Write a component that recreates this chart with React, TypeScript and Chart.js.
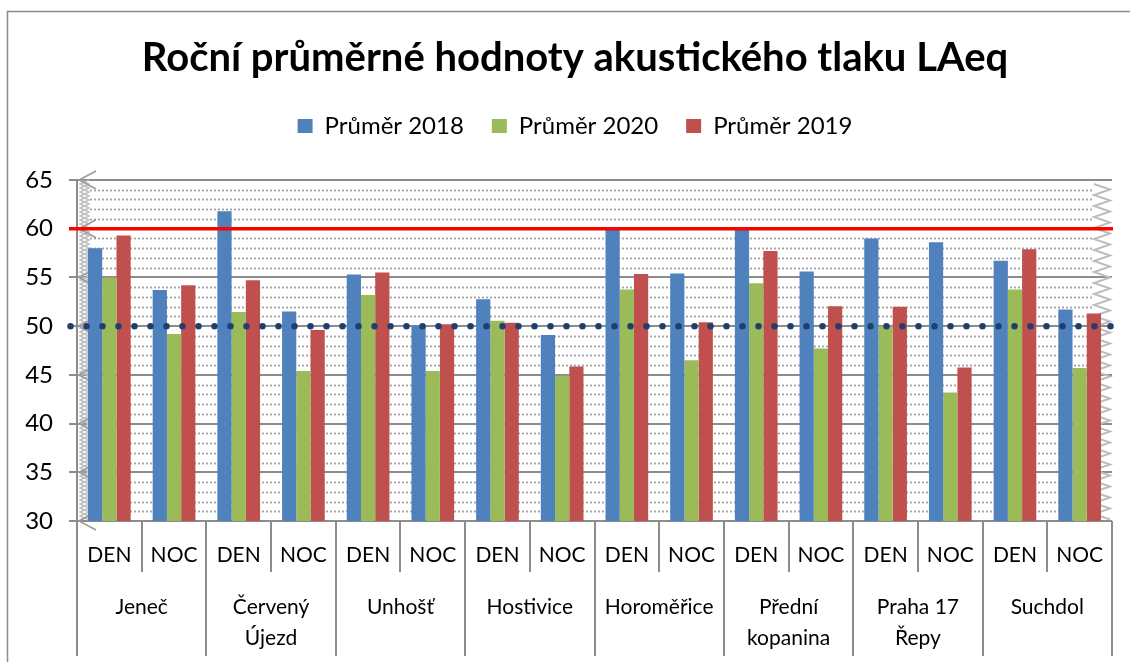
import React, { useEffect, useRef } from "react";
import { Chart, registerables } from "chart.js";

Chart.register(...registerables);

// ---------- data ----------
const groups: (string | string[])[] = [
  "Jeneč",
  ["Červený", "Újezd"],
  "Unhošť",
  "Hostivice",
  "Horoměřice",
  ["Přední", "kopanina"],
  ["Praha 17", "Řepy"],
  "Suchdol",
];
const periods = ["DEN", "NOC", "DEN", "NOC", "DEN", "NOC", "DEN", "NOC", "DEN", "NOC", "DEN", "NOC", "DEN", "NOC", "DEN", "NOC"];

const avg2018 = [58.0, 53.7, 61.8, 51.5, 55.3, 50.1, 52.75, 49.1, 59.9, 55.4, 59.9, 55.6, 59.0, 58.6, 56.7, 51.7];
const avg2020 = [55.0, 49.2, 51.45, 45.4, 53.2, 45.4, 50.55, 44.9, 53.75, 46.5, 54.4, 47.7, 50.0, 43.2, 53.75, 45.7];
const avg2019 = [59.3, 54.2, 54.7, 49.6, 55.5, 50.2, 50.35, 45.85, 55.35, 50.4, 57.7, 52.05, 52.0, 45.75, 57.9, 51.3];

const seriesNames = ["Průměr 2018", "Průměr 2020", "Průměr 2019"];
const seriesColors = ["#4F81BD", "#9BBB59", "#C0504D"];

const yMin = 30;
const yMax = 65;
const yMajorStep = 5;
const dayLimit = 60;
const nightLimit = 50;

const titleText = "Roční průměrné hodnoty akustického tlaku LAeq";
const FONT = "Lato, 'Open Sans', sans-serif";

const decorPlugin = {
  id: "decor",
  beforeDraw(chart: any) {
    const ctx = chart.ctx;
    ctx.save();
    ctx.strokeStyle = "#8C8C8C";
    ctx.lineWidth = 1.5;
    ctx.strokeRect(7.5, 11.5, chart.width + 20, chart.height + 20);
    ctx.restore();
  },
  beforeDatasetsDraw(chart: any) {
    const ctx = chart.ctx;
    const y = chart.scales.y;
    const { left, right, top, bottom } = chart.chartArea;
    ctx.save();
    // minor dotted gridlines
    ctx.strokeStyle = "#A3A3A3";
    ctx.lineWidth = 1.8;
    ctx.setLineDash([2, 2]);
    for (let v = yMin + 1; v < yMax; v++) {
      if (v % yMajorStep === 0) continue;
      const py = Math.round(y.getPixelForValue(v)) + 0.5;
      ctx.beginPath();
      ctx.moveTo(left + 13, py);
      ctx.lineTo(right - 18, py);
      ctx.stroke();
    }
    ctx.setLineDash([]);
    // left wall zigzag
    ctx.strokeStyle = "#BDBDBD";
    ctx.lineWidth = 1.4;
    for (let phase = 0; phase < 2; phase++) {
      ctx.beginPath();
      let k = 0;
      for (let py = top; py <= bottom; py += 4) {
        const x = (k + phase) % 2 === 0 ? left + 3 : left + 12;
        if (k === 0) ctx.moveTo(x, py);
        else ctx.lineTo(x, py);
        k++;
      }
      ctx.stroke();
    }
    // chevrons at major ticks
    ctx.strokeStyle = "#9A9A9A";
    ctx.lineWidth = 1.5;
    for (let v = yMin; v <= yMax; v += yMajorStep) {
      const py = y.getPixelForValue(v);
      ctx.beginPath();
      ctx.moveTo(left + 19, py - 9);
      ctx.lineTo(left + 2, py);
      ctx.lineTo(left + 19, py + 9);
      ctx.stroke();
    }
    // right wall zigzag
    ctx.strokeStyle = "#BDBDBD";
    ctx.lineWidth = 2;
    ctx.beginPath();
    let k = 0;
    for (let py = top + 4; py <= bottom; py += 5.5) {
      const x = k % 2 === 0 ? right - 18 : right - 2;
      if (k === 0) ctx.moveTo(x, py);
      else ctx.lineTo(x, py);
      k++;
    }
    ctx.stroke();
    ctx.restore();
  },
  afterDatasetsDraw(chart: any) {
    const ctx = chart.ctx;
    const y = chart.scales.y;
    const { left, right } = chart.chartArea;
    ctx.save();
    // red limit line
    const ry = y.getPixelForValue(dayLimit);
    ctx.strokeStyle = "#FF0000";
    ctx.lineWidth = 3.5;
    ctx.beginPath();
    ctx.moveTo(left - 8, ry);
    ctx.lineTo(right + 1, ry);
    ctx.stroke();
    // dotted navy line
    const ny = y.getPixelForValue(nightLimit);
    ctx.strokeStyle = "#1F3F6F";
    ctx.lineWidth = 6.5;
    ctx.lineCap = "round";
    ctx.setLineDash([0, 16]);
    ctx.beginPath();
    ctx.moveTo(left - 6.5, ny);
    ctx.lineTo(right + 6, ny);
    ctx.stroke();
    ctx.restore();
  },
  afterDraw(chart: any) {
    const ctx = chart.ctx;
    const x = chart.scales.x;
    const { bottom } = chart.chartArea;
    const n = periods.length;
    const w = x.width / n;
    ctx.save();
    ctx.strokeStyle = "#8C8C8C";
    ctx.lineWidth = 2;
    for (let i = 0; i <= n; i++) {
      const px = Math.round(x.left + i * w);
      ctx.beginPath();
      ctx.moveTo(px, bottom);
      ctx.lineTo(px, i % 2 === 0 ? 656 : 572);
      ctx.stroke();
    }
    ctx.restore();
  },
};

export default function App() {
  const ref = useRef<HTMLCanvasElement | null>(null);

  useEffect(() => {
    if (!ref.current) return;
    const datasets = [avg2018, avg2020, avg2019].map((d, i) => ({
      label: seriesNames[i],
      data: d,
      backgroundColor: seriesColors[i],
      borderWidth: 0,
      categoryPercentage: 0.66,
      barPercentage: 1.0,
      xAxisID: "x",
      yAxisID: "y",
    }));
    const chart = new Chart(ref.current, {
      type: "bar",
      data: { labels: periods, datasets },
      plugins: [decorPlugin],
      options: {
        responsive: false,
        animation: false,
        layout: { padding: { left: 20, right: 0, top: 0, bottom: 0 } },
        plugins: {
          tooltip: { enabled: false },
          title: {
            display: true,
            text: titleText,
            color: "#000",
            font: { family: FONT, size: 40, weight: "bold", lineHeight: 1.2 },
            padding: { top: 34, bottom: 4 },
          },
          subtitle: {
            display: true,
            text: "",
            weight: 500,
            font: { size: 32, lineHeight: 1 },
            padding: 0,
          } as any,
          legend: {
            display: true,
            position: "top",
            labels: {
              color: "#000",
              font: { family: FONT, size: 24 },
              boxWidth: 15,
              boxHeight: 14,
              padding: 28,
            },
          },
        },
        scales: {
          x: {
            type: "category",
            labels: periods,
            offset: true,
            grid: { display: false, drawTicks: false },
            border: { display: false },
            ticks: {
              color: "#000",
              font: { family: FONT, size: 21 },
              padding: 22,
              autoSkip: false,
              maxRotation: 0,
            },
            afterFit: (s: any) => {
              s.height = 50;
            },
          },
          x2: {
            type: "category",
            labels: groups as any,
            position: "bottom",
            offset: true,
            grid: { display: false, drawTicks: false },
            border: { display: false },
            ticks: {
              color: "#000",
              font: { family: FONT, size: 21, lineHeight: 1.5 },
              padding: 20,
              autoSkip: false,
              maxRotation: 0,
            },
            afterFit: (s: any) => {
              s.height = 91;
            },
          },
          y: {
            min: yMin,
            max: yMax,
            ticks: {
              stepSize: yMajorStep,
              color: "#000",
              font: { family: FONT, size: 24 },
              padding: 16,
            },
            grid: {
              color: "#8C8C8C",
              lineWidth: 2,
              tickLength: 8,
              drawTicks: true,
            },
            border: { display: true, color: "#8C8C8C", width: 2 },
            afterFit: (s: any) => {
              s.width = 57;
            },
          },
          yRight: {
            type: "linear",
            position: "right",
            display: true,
            grid: { display: false, drawTicks: false },
            border: { display: false },
            ticks: { display: false },
            afterFit: (s: any) => {
              s.width = 18;
            },
          },
        },
      } as any,
    });
    return () => chart.destroy();
  }, []);

  return (
    <div style={{ position: "absolute", left: 0, top: 0, width: 1130, height: 662, background: "#fff" }}>
      <canvas ref={ref} width={1130} height={662} style={{ display: "block" }} />
    </div>
  );
}
